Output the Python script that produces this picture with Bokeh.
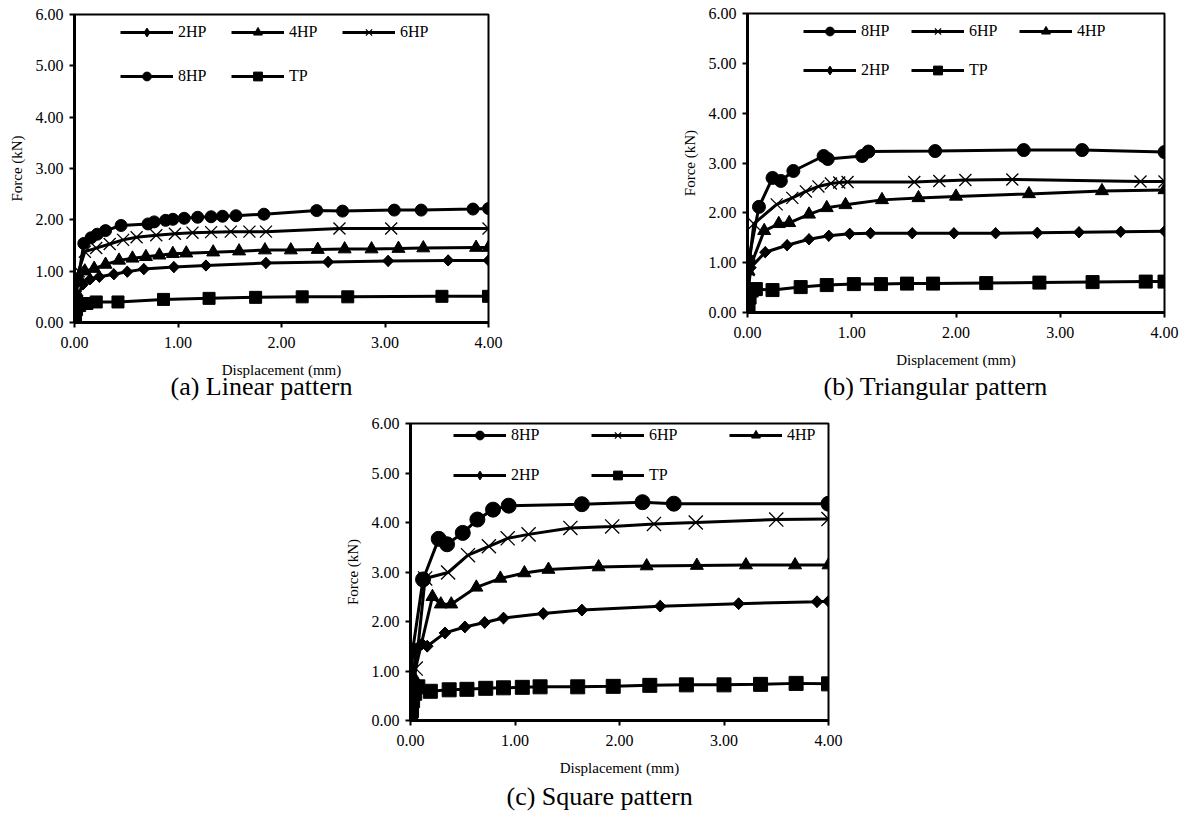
import math

from bokeh.embed import file_html
from bokeh.layouts import column, row
from bokeh.models import (FixedTicker, Legend, LegendItem, PrintfTickFormatter,
                          Range1d, Spacer, Title)
from bokeh.plotting import figure
from bokeh.resources import INLINE

SERIF = "Liberation Serif"

# Axis ticks shared by the three panels
x_ticks = [0, 1, 2, 3, 4]
y_ticks = [0, 1, 2, 3, 4, 5, 6]

# ---------------- (a) Linear pattern ----------------
lin_2hp_x = [0, 0.01, 0.03, 0.08, 0.15, 0.24, 0.38, 0.51, 0.67, 0.96, 1.27, 1.85, 2.45, 3.03, 3.61, 4.00]
lin_2hp_y = [0, 0.22, 0.52, 0.74, 0.84, 0.89, 0.94, 0.99, 1.04, 1.08, 1.11, 1.16, 1.18, 1.20, 1.21, 1.21]
lin_4hp_x = [0, 0.01, 0.04, 0.10, 0.19, 0.30, 0.43, 0.56, 0.69, 0.82, 0.95, 1.08, 1.34, 1.59, 1.84, 2.09,
             2.35, 2.61, 2.87, 3.13, 3.37, 3.88, 4.00]
lin_4hp_y = [0, 0.45, 0.88, 1.00, 1.05, 1.13, 1.21, 1.25, 1.28, 1.31, 1.34, 1.35, 1.37, 1.39, 1.41, 1.41,
             1.42, 1.43, 1.43, 1.44, 1.45, 1.46, 1.46]
lin_6hp_x = [0, 0.01, 0.04, 0.10, 0.21, 0.34, 0.47, 0.60, 0.79, 0.97, 1.14, 1.32, 1.51, 1.69, 1.85, 2.56, 3.06, 4.00]
lin_6hp_y = [0, 0.50, 1.00, 1.38, 1.45, 1.53, 1.61, 1.66, 1.70, 1.73, 1.75, 1.76, 1.77, 1.77, 1.77, 1.83, 1.83, 1.83]
lin_8hp_x = [0, 0.01, 0.09, 0.16, 0.22, 0.30, 0.45, 0.71, 0.77, 0.88, 0.95, 1.06, 1.19, 1.32, 1.43, 1.56,
             1.83, 2.34, 2.59, 3.09, 3.35, 3.85, 4.00]
lin_8hp_y = [0, 0.53, 1.54, 1.65, 1.72, 1.79, 1.89, 1.92, 1.96, 1.99, 2.01, 2.03, 2.05, 2.06, 2.07, 2.08,
             2.11, 2.18, 2.17, 2.19, 2.19, 2.21, 2.22]
lin_tp_x = [0, 0.01, 0.02, 0.05, 0.12, 0.21, 0.42, 0.86, 1.30, 1.75, 2.20, 2.64, 3.55, 4.00]
lin_tp_y = [0, 0.12, 0.25, 0.33, 0.37, 0.40, 0.40, 0.45, 0.47, 0.49, 0.50, 0.50, 0.51, 0.51]

# ---------------- (b) Triangular pattern ----------------
tri_8hp_x = [0, 0.01, 0.11, 0.24, 0.32, 0.44, 0.73, 0.77, 1.10, 1.16, 1.80, 2.65, 3.21, 4.00]
tri_8hp_y = [0, 1.04, 2.12, 2.70, 2.64, 2.84, 3.14, 3.08, 3.14, 3.23, 3.24, 3.26, 3.26, 3.22]
tri_6hp_x = [0, 0.01, 0.06, 0.28, 0.43, 0.56, 0.68, 0.80, 0.88, 0.96, 1.60, 1.84, 2.09, 2.54, 3.77, 4.00]
tri_6hp_y = [0, 0.85, 1.78, 2.17, 2.30, 2.43, 2.53, 2.59, 2.61, 2.62, 2.62, 2.64, 2.66, 2.67, 2.63, 2.63]
tri_4hp_x = [0, 0.01, 0.16, 0.30, 0.40, 0.59, 0.76, 0.94, 1.29, 1.64, 2.00, 2.70, 3.40, 4.00]
tri_4hp_y = [0, 0.83, 1.64, 1.78, 1.80, 1.97, 2.10, 2.16, 2.26, 2.30, 2.33, 2.38, 2.44, 2.46]
tri_2hp_x = [0, 0.01, 0.03, 0.17, 0.38, 0.59, 0.78, 0.98, 1.18, 1.58, 1.98, 2.38, 2.78, 3.18, 3.58, 4.00]
tri_2hp_y = [0, 0.45, 0.90, 1.21, 1.35, 1.47, 1.54, 1.58, 1.59, 1.59, 1.59, 1.59, 1.60, 1.61, 1.62, 1.63]
tri_tp_x = [0, 0.01, 0.02, 0.04, 0.08, 0.24, 0.51, 0.76, 1.02, 1.28, 1.53, 1.78, 2.29, 2.80, 3.31, 3.82, 4.00]
tri_tp_y = [0, 0.15, 0.30, 0.44, 0.47, 0.45, 0.51, 0.55, 0.57, 0.57, 0.58, 0.58, 0.59, 0.60, 0.61, 0.62, 0.62]

# ---------------- (c) Square pattern ----------------
sq_8hp_x = [0, 0.02, 0.12, 0.27, 0.35, 0.50, 0.64, 0.79, 0.94, 1.64, 2.22, 2.52, 4.00]
sq_8hp_y = [0, 1.41, 2.85, 3.67, 3.56, 3.79, 4.06, 4.26, 4.34, 4.37, 4.41, 4.38, 4.38]
sq_6hp_x = [0, 0.02, 0.05, 0.14, 0.36, 0.55, 0.75, 0.93, 1.13, 1.53, 1.93, 2.33, 2.73, 3.50, 4.00]
sq_6hp_y = [0, 0.55, 1.05, 2.87, 2.99, 3.34, 3.52, 3.68, 3.76, 3.89, 3.92, 3.97, 4.00, 4.06, 4.07]
sq_4hp_x = [0, 0.03, 0.21, 0.29, 0.39, 0.63, 0.86, 1.09, 1.32, 1.80, 2.26, 2.74, 3.21, 3.68, 4.00]
sq_4hp_y = [0, 0.88, 2.50, 2.35, 2.35, 2.69, 2.87, 2.98, 3.05, 3.10, 3.12, 3.13, 3.14, 3.14, 3.14]
sq_2hp_x = [0, 0.02, 0.06, 0.11, 0.16, 0.33, 0.52, 0.71, 0.89, 1.27, 1.64, 2.39, 3.14, 3.89, 4.00]
sq_2hp_y = [0, 0.85, 1.45, 1.55, 1.50, 1.77, 1.89, 1.98, 2.07, 2.16, 2.23, 2.31, 2.36, 2.40, 2.41]
sq_tp_x = [0, 0.01, 0.02, 0.04, 0.07, 0.19, 0.37, 0.54, 0.72, 0.89, 1.07, 1.24, 1.60, 1.94, 2.29, 2.64,
           3.00, 3.35, 3.69, 4.00]
sq_tp_y = [0, 0.20, 0.40, 0.55, 0.68, 0.59, 0.62, 0.63, 0.65, 0.66, 0.67, 0.68, 0.68, 0.69, 0.71, 0.72,
           0.72, 0.73, 0.75, 0.74]

# marker shape for each specimen label
MARKERS = {"2HP": "diamond", "4HP": "triangle", "6HP": "x", "8HP": "circle", "TP": "square"}


def add_series(p, xs, ys, name, size):
    line_r = p.line(xs, ys, line_color="black", line_width=3)
    kind = MARKERS[name]
    if kind == "diamond":
        # narrow diamond (used for the legend key) sits under an equal-sided rotated square
        key = p.scatter(xs, ys, marker="diamond", size=size,
                        fill_color="black", line_color="black")
        p.scatter(xs, ys, marker="square", angle=math.pi / 4, size=size * 0.72,
                  fill_color="black", line_color="black")
    elif kind == "x":
        key = p.scatter(xs, ys, marker="x", size=size, line_color="black", line_width=1.3)
    else:
        key = p.scatter(xs, ys, marker=kind, size=size, fill_color="black", line_color="black")
    return LegendItem(label=name, renderers=[line_r, key])


def make_panel(width, height, borders, series, sizes, caption, caption_offset, caption_standoff,
               legend_rows, legend_x, legend_y, legend_spacing):
    left, right, top, bottom = borders
    p = figure(width=width, height=height, title=None,
               x_range=Range1d(0, 4), y_range=Range1d(0, 6),
               output_backend="svg", toolbar_location=None,
               min_border_left=left, min_border_right=right,
               min_border_top=top, min_border_bottom=bottom)
    p.background_fill_color = "white"
    p.border_fill_color = "white"
    p.outline_line_color = "black"
    p.outline_line_width = 2
    p.xgrid.visible = False
    p.ygrid.visible = False

    p.xaxis.ticker = FixedTicker(ticks=x_ticks)
    p.yaxis.ticker = FixedTicker(ticks=y_ticks)
    p.xaxis.axis_label = "Displacement (mm)"
    p.yaxis.axis_label = "Force (kN)"
    for ax in (p.xaxis[0], p.yaxis[0]):
        ax.formatter = PrintfTickFormatter(format="%.2f")
        ax.axis_line_color = "black"
        ax.axis_line_width = 3
        ax.major_tick_line_color = "black"
        ax.major_tick_line_width = 2
        ax.major_tick_out = 5
        ax.major_tick_in = 0
        ax.minor_tick_out = 0
        ax.minor_tick_in = 0
        ax.major_label_text_font = SERIF
        ax.major_label_text_font_size = "16px"
        ax.major_label_text_color = "black"
        ax.axis_label_text_font = SERIF
        ax.axis_label_text_font_size = "15px"
        ax.axis_label_text_font_style = "normal"
        ax.axis_label_text_color = "black"
    p.xaxis.major_label_standoff = 9
    p.xaxis.axis_label_standoff = 11
    p.yaxis.major_label_standoff = 6
    p.yaxis.axis_label_standoff = 8

    items = {}
    for name, xs, ys in series:
        items[name] = add_series(p, xs, ys, name, sizes[MARKERS[name]])

    frame_h = height - top - bottom
    for names, dy in zip(legend_rows, legend_y):
        leg = Legend(items=[items[n] for n in names], orientation="horizontal",
                     location=(legend_x, frame_h - dy - 11),
                     glyph_width=53, glyph_height=22, label_height=22, label_width=30,
                     label_standoff=5, spacing=legend_spacing, padding=0, margin=0,
                     border_line_alpha=0, background_fill_alpha=0,
                     label_text_font=SERIF, label_text_font_size="16px",
                     label_text_color="black")
        p.add_layout(leg)

    # panel caption under the axis title
    p.add_layout(Title(text=caption, align="left", offset=caption_offset,
                       vertical_align="bottom", standoff=caption_standoff,
                       text_font=SERIF, text_font_size="26px", text_font_style="normal",
                       text_color="black"), "below")
    return p


pa = make_panel(
    600, 414, (74, 112, 14, 92),
    [("2HP", lin_2hp_x, lin_2hp_y), ("4HP", lin_4hp_x, lin_4hp_y), ("6HP", lin_6hp_x, lin_6hp_y),
     ("8HP", lin_8hp_x, lin_8hp_y), ("TP", lin_tp_x, lin_tp_y)],
    {"circle": 12, "square": 12, "triangle": 13, "diamond": 11, "x": 17},
    "(a) Linear pattern", 96, -22,
    [["2HP", "4HP", "6HP"], ["8HP", "TP"]], 46, [18, 62], 23)

pb = make_panel(
    583, 414, (147, 19, 13, 102),
    [("8HP", tri_8hp_x, tri_8hp_y), ("6HP", tri_6hp_x, tri_6hp_y), ("4HP", tri_4hp_x, tri_4hp_y),
     ("2HP", tri_2hp_x, tri_2hp_y), ("TP", tri_tp_x, tri_tp_y)],
    {"circle": 13, "square": 13, "triangle": 13, "diamond": 11, "x": 17},
    "(b) Triangular pattern", 76, -2,
    [["8HP", "6HP", "4HP"], ["2HP", "TP"]], 56, [18, 57], 20)

pc = make_panel(
    598, 400, (80, 100, 9, 94),
    [("8HP", sq_8hp_x, sq_8hp_y), ("6HP", sq_6hp_x, sq_6hp_y), ("4HP", sq_4hp_x, sq_4hp_y),
     ("2HP", sq_2hp_x, sq_2hp_y), ("TP", sq_tp_x, sq_tp_y)],
    {"circle": 15, "square": 14, "triangle": 13, "diamond": 11.5, "x": 20},
    "(c) Square pattern", 96, 2,
    [["8HP", "6HP", "4HP"], ["2HP", "TP"]], 43, [12, 52], 50)

layout = column(row(pa, column(pb)), row(Spacer(width=330, height=400), pc))

with open("out.html", "w") as f:
    f.write(file_html(layout, INLINE))
